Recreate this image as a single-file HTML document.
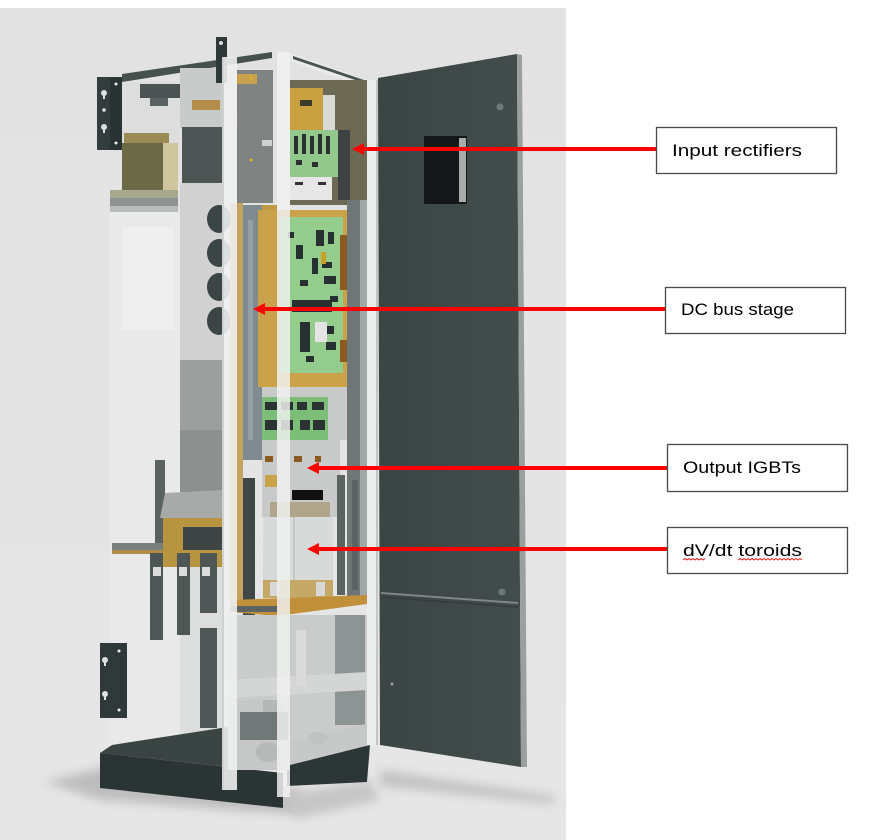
<!DOCTYPE html>
<html><head><meta charset="utf-8"><style>
html,body{margin:0;padding:0;background:#fff;}
svg{display:block;}
</style></head><body>
<svg width="876" height="840" viewBox="0 0 876 840" xmlns="http://www.w3.org/2000/svg">
<defs>
<filter id="blur6" x="-20%" y="-50%" width="140%" height="200%"><feGaussianBlur stdDeviation="5"/></filter>
<linearGradient id="bg" x1="0" y1="0" x2="0" y2="1"><stop offset="0" stop-color="#e2e2e2"/><stop offset="1" stop-color="#e6e6e6"/></linearGradient>
<linearGradient id="door" x1="0" y1="0" x2="1" y2="0"><stop offset="0" stop-color="#3b4544"/><stop offset="1" stop-color="#424c4b"/></linearGradient>
</defs>
<rect x="0" y="0" width="876" height="840" fill="#fff"/>
<rect x="0" y="8" width="566" height="832" fill="url(#bg)"/>

<!-- floor shadows -->
<polygon points="45,782 100,768 300,790 300,815 100,800" fill="#bdbdbd" filter="url(#blur6)"/>
<polygon points="380,770 556,796 552,804 380,786" fill="#c2c2c2" filter="url(#blur6)"/>
<polygon points="280,795 370,780 380,800 300,818" fill="#c6c6c6" filter="url(#blur6)"/>

<!-- left translucent side panel -->
<rect x="109" y="212" width="120" height="540" fill="#e9e9e9"/>
<rect x="122" y="227" width="52" height="103" fill="#efefef"/>
<!-- upper left compartment -->
<rect x="122" y="82" width="58" height="62" fill="#dcdddc"/>
<polygon points="122,74 272,52 272,58 122,82" fill="#46504f"/>
<rect x="140" y="84" width="40" height="14" fill="#4b5453"/>
<rect x="150" y="98" width="18" height="8" fill="#5a6261"/>

<!-- left top bracket -->
<rect x="97" y="77" width="25" height="73" fill="#333d3d"/>
<rect x="110" y="78" width="12" height="72" fill="#2a3333"/>
<circle cx="104" cy="93" r="3" fill="#dfe1e0"/><rect x="103" y="93" width="2" height="6" fill="#dfe1e0"/>
<circle cx="104" cy="110" r="1.8" fill="#dfe1e0"/>
<circle cx="104" cy="127" r="3" fill="#dfe1e0"/><rect x="103" y="127" width="2" height="6" fill="#dfe1e0"/>
<circle cx="116" cy="84" r="1.5" fill="#eee"/><circle cx="116" cy="143" r="1.5" fill="#eee"/>

<!-- transformer -->
<rect x="124" y="133" width="45" height="12" fill="#9a8b55"/>
<rect x="122" y="143" width="43" height="48" fill="#6c6a46"/>
<rect x="163" y="143" width="15" height="48" fill="#cfc59f"/>
<rect x="110" y="190" width="68" height="8" fill="#a7a98f"/>
<rect x="110" y="198" width="68" height="8" fill="#8d9392"/>
<rect x="110" y="206" width="68" height="6" fill="#b8bcbb"/>

<!-- middle side panel -->
<rect x="180" y="68" width="43" height="60" fill="#c9cbca"/>
<rect x="182" y="127" width="41" height="56" fill="#4d5655"/>
<rect x="180" y="183" width="43" height="177" fill="#d0d1d0"/>
<rect x="180" y="360" width="43" height="70" fill="#9c9f9e"/>
<rect x="192" y="100" width="28" height="10" fill="#b58d4a"/>
<ellipse cx="219" cy="219" rx="12" ry="14" fill="#3b4545"/>
<ellipse cx="219" cy="253" rx="12" ry="14" fill="#3b4545"/>
<ellipse cx="219" cy="287" rx="12" ry="14" fill="#3b4545"/>
<ellipse cx="219" cy="321" rx="12" ry="14" fill="#3b4545"/>

<!-- interior back lower -->
<rect x="180" y="430" width="43" height="320" fill="#dcdedd"/>
<rect x="200" y="628" width="17" height="100" fill="#4f5857"/>

<!-- left box & busbars -->
<rect x="180" y="430" width="43" height="63" fill="#8c908f"/>
<rect x="155" y="460" width="10" height="87" fill="#5a6261"/>
<polygon points="165,493 223,490 223,518 160,518" fill="#a7aaa9"/>
<rect x="163" y="518" width="60" height="49" fill="#b7943f"/>
<rect x="183" y="527" width="40" height="23" fill="#3f4545"/>
<rect x="112" y="543" width="51" height="7" fill="#7b807f"/>
<rect x="112" y="550" width="51" height="4" fill="#b08d45"/>
<rect x="150" y="553" width="13" height="87" fill="#4f5756"/>
<rect x="177" y="553" width="13" height="82" fill="#4f5756"/>
<rect x="200" y="553" width="17" height="60" fill="#4f5756"/>
<rect x="153" y="567" width="8" height="9" fill="#dcdcdc"/>
<rect x="179" y="567" width="8" height="9" fill="#dcdcdc"/>
<rect x="202" y="567" width="8" height="9" fill="#dcdcdc"/>

<!-- top front structure -->
<rect x="216" y="37" width="11" height="46" fill="#2f3838"/>
<circle cx="221" cy="43" r="2" fill="#ddd"/>
<polygon points="290,53 367,80 367,88 290,61" fill="#e9ebea"/>
<polygon points="293,56 364,80 364,83 293,59" fill="#4a5453"/>

<!-- interior upper -->
<rect x="290" y="80" width="77" height="125" fill="#6c6a55"/>
<rect x="290" y="88" width="33" height="42" fill="#c9a040"/>
<rect x="300" y="100" width="12" height="6" fill="#3a3a2a"/>
<rect x="323" y="95" width="12" height="35" fill="#d9d9d6"/>
<rect x="290" y="130" width="48" height="47" fill="#92c88c"/>
<rect x="294" y="136" width="4" height="18" fill="#2c3030"/><rect x="302" y="134" width="4" height="20" fill="#2c3030"/>
<rect x="310" y="136" width="4" height="18" fill="#2c3030"/><rect x="318" y="134" width="4" height="20" fill="#2c3030"/>
<rect x="326" y="136" width="4" height="18" fill="#2c3030"/>
<rect x="296" y="160" width="6" height="5" fill="#2c3030"/><rect x="312" y="162" width="6" height="5" fill="#2c3030"/>
<rect x="290" y="177" width="42" height="23" fill="#e6e7e6"/>
<rect x="295" y="182" width="8" height="3" fill="#333"/><rect x="318" y="182" width="8" height="3" fill="#333"/>
<rect x="338" y="130" width="12" height="70" fill="#3f4242"/>

<!-- gray plate -->
<rect x="237" y="70" width="36" height="133" fill="#7f8483"/>
<rect x="237" y="74" width="20" height="10" fill="#c9a14e"/>
<circle cx="251" cy="78" r="1.5" fill="#e0b020"/>
<circle cx="251" cy="160" r="1.5" fill="#e0b020"/>
<rect x="262" y="140" width="10" height="6" fill="#d0d0d0"/>

<!-- gold strips & DC bus -->
<rect x="230" y="203" width="13" height="400" fill="#c2a460"/>
<rect x="262" y="205" width="15" height="190" fill="#bf9b48"/>
<rect x="243" y="205" width="19" height="255" fill="#7f8b90"/>
<rect x="248" y="220" width="5" height="220" fill="#93a0a4"/>

<!-- DC bus PCB -->
<rect x="258" y="210" width="89" height="177" fill="#c9a24a"/>
<rect x="280" y="217" width="63" height="156" fill="#94cc8e"/>
<g fill="#263030">
<rect x="316" y="230" width="8" height="16"/><rect x="328" y="232" width="6" height="12"/>
<rect x="296" y="245" width="7" height="14"/><rect x="312" y="258" width="6" height="16"/>
<rect x="322" y="262" width="10" height="6"/><rect x="324" y="276" width="12" height="8"/>
<rect x="300" y="280" width="8" height="6"/><rect x="292" y="300" width="40" height="12"/>
<rect x="300" y="322" width="10" height="30"/><rect x="320" y="326" width="14" height="8"/>
<rect x="326" y="342" width="10" height="8"/><rect x="288" y="232" width="6" height="6"/>
<rect x="330" y="296" width="8" height="6"/><rect x="306" y="356" width="8" height="6"/>
</g>
<rect x="315" y="322" width="12" height="20" fill="#e4e4e4"/>
<rect x="321" y="252" width="5" height="12" fill="#c7a024"/>
<rect x="340" y="235" width="10" height="55" fill="#8a5a22"/>
<rect x="340" y="340" width="10" height="22" fill="#8a5a22"/>

<!-- right column -->
<rect x="347" y="200" width="20" height="400" fill="#6e7776"/>
<rect x="360" y="200" width="7" height="400" fill="#a2aaa9"/>

<!-- IGBT -->
<rect x="262" y="387" width="85" height="53" fill="#c7cac9"/>
<rect x="262" y="397" width="66" height="43" fill="#7cbd78"/>
<g fill="#2b3232">
<rect x="265" y="402" width="12" height="8"/><rect x="281" y="402" width="12" height="8"/>
<rect x="297" y="402" width="10" height="8"/><rect x="312" y="402" width="12" height="8"/>
<rect x="265" y="420" width="12" height="10"/><rect x="281" y="420" width="12" height="10"/>
<rect x="300" y="420" width="10" height="10"/><rect x="313" y="420" width="12" height="10"/>
</g>
<rect x="262" y="440" width="78" height="77" fill="#c8cac9"/>
<rect x="265" y="456" width="8" height="6" fill="#8a5a22"/><rect x="294" y="456" width="8" height="6" fill="#8a5a22"/><rect x="315" y="456" width="6" height="6" fill="#8a5a22"/>
<rect x="292" y="490" width="31" height="10" fill="#111"/>
<rect x="265" y="475" width="12" height="12" fill="#c9a24a"/>
<rect x="270" y="502" width="60" height="15" fill="#b0a58a"/>
<rect x="243" y="478" width="12" height="152" fill="#3f4747"/>

<!-- toroid block -->
<rect x="263" y="517" width="70" height="63" fill="#d8dad9"/>
<rect x="293" y="517" width="2" height="63" fill="#c6c8c7"/>
<rect x="263" y="580" width="70" height="18" fill="#c4a866"/>
<rect x="270" y="582" width="9" height="14" fill="#d8d8d8"/><rect x="316" y="582" width="9" height="14" fill="#d8d8d8"/>
<rect x="337" y="475" width="8" height="120" fill="#5a6362"/><rect x="352" y="480" width="6" height="110" fill="#5a6362"/>

<!-- shelf -->
<polygon points="230,600 367,595 367,604 277,616 230,612" fill="#c0903a"/>
<rect x="230" y="606" width="47" height="6" fill="#5c6463"/>

<!-- base (behind front panel) -->
<polygon points="100,753 112,745 228,727 228,767" fill="#3a4443"/>
<polygon points="100,753 283,773 283,808 100,788" fill="#2b3434"/>
<polygon points="287,763 370,745 367,782 287,786" fill="#2d3636"/>

<!-- lower translucent front -->
<rect x="228" y="615" width="140" height="130" fill="#c9cccb"/>
<rect x="228" y="700" width="62" height="70" fill="#c5c8c7"/>
<rect x="335" y="615" width="30" height="110" fill="#8d9594"/>
<polygon points="228,680 367,672 367,690 228,698" fill="#d4d6d5"/>
<rect x="296" y="630" width="10" height="55" fill="#dadada"/>
<rect x="240" y="712" width="48" height="28" fill="#717978"/>
<rect x="263" y="700" width="20" height="12" fill="#b3b7b6"/>
<polygon points="290,742 370,723 370,745 290,765" fill="#c6c9c8"/>
<ellipse cx="268" cy="752" rx="12" ry="10" fill="#b5b9b8"/>
<ellipse cx="318" cy="738" rx="10" ry="6" fill="#c0c3c2"/>

<!-- posts -->
<rect x="222" y="57" width="15" height="733" fill="#eef0ef" opacity="0.9"/>
<rect x="222" y="57" width="2" height="733" fill="#cfd2d1"/>
<rect x="277" y="52" width="13" height="745" fill="#f0f1f0" opacity="0.85"/>
<rect x="367" y="80" width="11" height="665" fill="#eceeed"/>
<rect x="376" y="80" width="2" height="665" fill="#c3c6c5"/>

<!-- left lower bracket -->
<rect x="100" y="643" width="27" height="75" fill="#2f3939"/>
<circle cx="105" cy="660" r="3" fill="#dfe1e0"/><rect x="104" y="660" width="2" height="6" fill="#dfe1e0"/>
<circle cx="105" cy="694" r="3" fill="#dfe1e0"/><rect x="104" y="694" width="2" height="6" fill="#dfe1e0"/>
<circle cx="119" cy="651" r="1.5" fill="#eee"/><circle cx="119" cy="710" r="1.5" fill="#eee"/>

<!-- door -->
<polygon points="378,78 517,54 521,767 380,745" fill="url(#door)"/>
<polygon points="517,54 522,55 527,767 521,767" fill="#9aa09e"/>
<line x1="381" y1="593" x2="518" y2="603" stroke="#7e8786" stroke-width="2"/>
<line x1="381" y1="597" x2="518" y2="607" stroke="#343c3c" stroke-width="1.5"/>
<rect x="424" y="136" width="43" height="68" fill="#141818"/>
<rect x="459" y="138" width="7" height="64" fill="#a7adab"/>
<circle cx="500" cy="107" r="3.5" fill="#6d7776"/>
<circle cx="502" cy="592" r="3.5" fill="#6d7776"/>
<circle cx="392" cy="684" r="1.5" fill="#9aa2a1"/>

<!-- arrows -->
<g fill="#ff0000" stroke="none">
<rect x="361" y="147" width="295" height="4"/>
<polygon points="352,149 364,143 364,155"/>
<rect x="262" y="307" width="403" height="4"/>
<polygon points="253,309 265,303 265,315"/>
<rect x="317" y="466" width="350" height="4"/>
<polygon points="307,468 319,462 319,474"/>
<rect x="316" y="547" width="351" height="4"/>
<polygon points="307,549 319,543 319,555"/>
</g>

<!-- label boxes -->
<g fill="#fff" stroke="#4a4a4a" stroke-width="1.3">
<rect x="656.5" y="127.5" width="180" height="46"/>
<rect x="665.5" y="287.5" width="180" height="46"/>
<rect x="667.5" y="444.5" width="180" height="47"/>
<rect x="667.5" y="527.5" width="180" height="46"/>
</g>
<g font-family="'Liberation Sans', sans-serif" font-size="17" fill="#000">
<text x="672" y="156" textLength="130" lengthAdjust="spacingAndGlyphs">Input rectifiers</text>
<text x="681" y="315" textLength="113" lengthAdjust="spacingAndGlyphs">DC bus stage</text>
<text x="683" y="473" textLength="118" lengthAdjust="spacingAndGlyphs">Output IGBTs</text>
<text x="683" y="556" textLength="119" lengthAdjust="spacingAndGlyphs">dV/dt toroids</text>
</g>
<g fill="none" stroke="#e02020" stroke-width="1">
<path d="M683,560 l2,-1.5 l2,1.5 l2,-1.5 l2,1.5 l2,-1.5 l2,1.5 l2,-1.5 l2,1.5 l2,-1.5 l2,1.5 l2,-1.5"/>
<path d="M738,560 l2,-1.5 l2,1.5 l2,-1.5 l2,1.5 l2,-1.5 l2,1.5 l2,-1.5 l2,1.5 l2,-1.5 l2,1.5 l2,-1.5 l2,1.5 l2,-1.5 l2,1.5 l2,-1.5 l2,1.5 l2,-1.5 l2,1.5 l2,-1.5 l2,1.5 l2,-1.5 l2,1.5 l2,-1.5 l2,1.5 l2,-1.5 l2,1.5 l2,-1.5 l2,1.5 l2,-1.5 l2,1.5 l2,-1.5 l2,1.5"/>
</g>
</svg>
</body></html>
